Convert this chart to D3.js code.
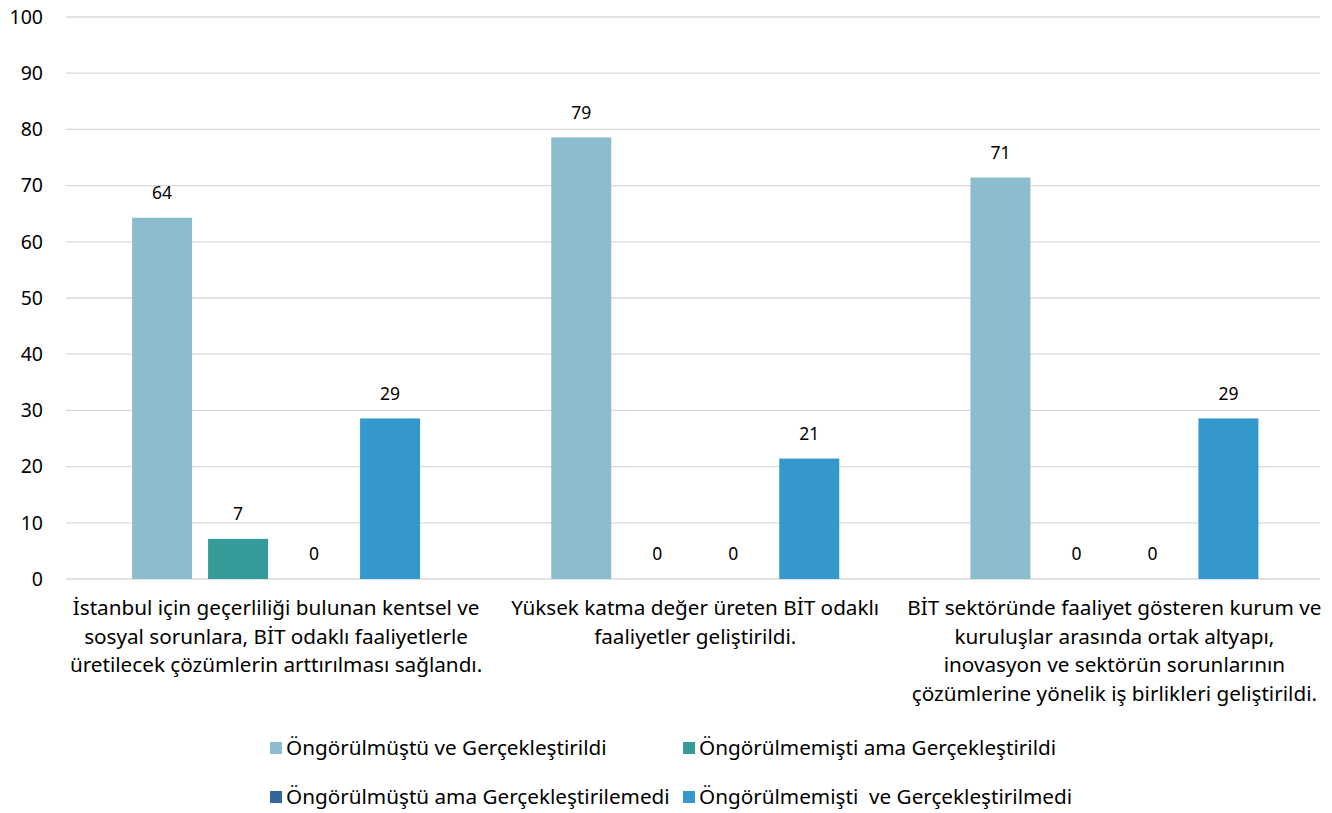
<!DOCTYPE html>
<html>
<head>
<meta charset="utf-8">
<script src="https://cdnjs.cloudflare.com/ajax/libs/d3/7.8.5/d3.min.js"></script>
<style>
  body { margin: 0; background: #fff; }
  svg { display: block; font-family: 'Noto Sans', 'Open Sans', sans-serif; }
</style>
</head>
<body>
<svg id="chart" width="1332" height="813"></svg>
<script>
const categories = [
  ['İstanbul için geçerliliği bulunan kentsel ve', 'sosyal sorunlara, BİT odaklı faaliyetlerle', 'üretilecek çözümlerin arttırılması sağlandı.'],
  ['Yüksek katma değer üreten BİT odaklı', 'faaliyetler geliştirildi.'],
  ['BİT sektöründe faaliyet gösteren kurum ve', 'kuruluşlar arasında ortak altyapı,', 'inovasyon ve sektörün sorunlarının', 'çözümlerine yönelik iş birlikleri geliştirildi.'],
];
const seriesNames = [
  'Öngörülmüştü ve Gerçekleştirildi',
  'Öngörülmemişti ama Gerçekleştirildi',
  'Öngörülmüştü ama Gerçekleştirilemedi',
  'Öngörülmemişti  ve Gerçekleştirilmedi',
];
const seriesColors = ['#8bbdcf', '#349b98', '#33679b', '#3598cd'];
const values = [
  [64.29, 7.14, 0, 28.57],
  [78.57, 0, 0, 21.43],
  [71.43, 0, 0, 28.57],
];
const yTicks = [0, 10, 20, 30, 40, 50, 60, 70, 80, 90, 100];

const svg = d3.select('#chart');
const plotTop = 17, plotBottom = 579, gridLeft = 66, gridRight = 1320;

const x0 = d3.scaleBand()
  .domain(d3.range(categories.length))
  .range([66.5, 1324]);

const bw = x0.bandwidth();
const x1 = d3.scaleBand()
  .domain(d3.range(seriesNames.length))
  .range([bw / 2 - 144, bw / 2 + 144])
  .paddingInner(16 / 76)
  .paddingOuter(0);

const y = d3.scaleLinear().domain([0, 100]).range([plotBottom, plotTop]);

// gridlines
svg.append('g')
  .selectAll('line')
  .data(yTicks)
  .join('line')
  .attr('x1', gridLeft).attr('x2', gridRight)
  .attr('y1', d => y(d)).attr('y2', d => y(d))
  .attr('stroke', '#d9d9d9').attr('stroke-width', 1.3);

// y tick labels
svg.append('g')
  .selectAll('text')
  .data(yTicks)
  .join('text')
  .attr('x', 43).attr('y', d => y(d))
  .attr('dy', '0.35em')
  .attr('text-anchor', 'end')
  .attr('font-size', 19.5)
  .attr('fill', '#000')
  .text(d => d);

// bars
const groups = svg.append('g')
  .selectAll('g')
  .data(values)
  .join('g')
  .attr('transform', (d, i) => `translate(${x0(i)},0)`);

groups.selectAll('rect')
  .data(d => d.map((v, j) => ({ v, j })))
  .join('rect')
  .attr('x', d => x1(d.j))
  .attr('width', x1.bandwidth())
  .attr('y', d => y(d.v))
  .attr('height', d => y(0) - y(d.v))
  .attr('fill', d => seriesColors[d.j]);

groups.selectAll('text')
  .data(d => d.map((v, j) => ({ v, j })))
  .join('text')
  .attr('x', d => x1(d.j) + x1.bandwidth() / 2)
  .attr('y', d => y(d.v) - 25)
  .attr('dy', '0.35em')
  .attr('text-anchor', 'middle')
  .attr('font-size', 17.5)
  .attr('fill', '#000')
  .text(d => Math.round(d.v));

// category labels
svg.append('g')
  .selectAll('text')
  .data(categories)
  .join('text')
  .attr('x', (d, i) => x0(i) + bw / 2)
  .attr('y', 608)
  .attr('text-anchor', 'middle')
  .attr('font-size', 20.7)
  .attr('fill', '#000')
  .each(function (lines) {
    const cx = d3.select(this).attr('x');
    d3.select(this).selectAll('tspan')
      .data(lines)
      .join('tspan')
      .attr('x', cx)
      .attr('dy', (l, k) => k === 0 ? '0.35em' : 28.6)
      .text(l => l);
  });

// legend
const legendPos = [[270, 748], [683, 748], [270, 797], [683, 797]];
const legend = svg.append('g')
  .selectAll('g')
  .data(seriesNames)
  .join('g')
  .attr('transform', (d, i) => `translate(${legendPos[i][0]},${legendPos[i][1]})`);
legend.append('rect')
  .attr('x', 0).attr('y', -6).attr('width', 12).attr('height', 12)
  .attr('fill', (d, i) => seriesColors[i]);
legend.append('text')
  .attr('x', 16).attr('y', 0).attr('dy', '0.35em')
  .attr('font-size', 20.7)
  .attr('fill', '#000')
  .style('white-space', 'pre')
  .text(d => d);
</script>
</body>
</html>
